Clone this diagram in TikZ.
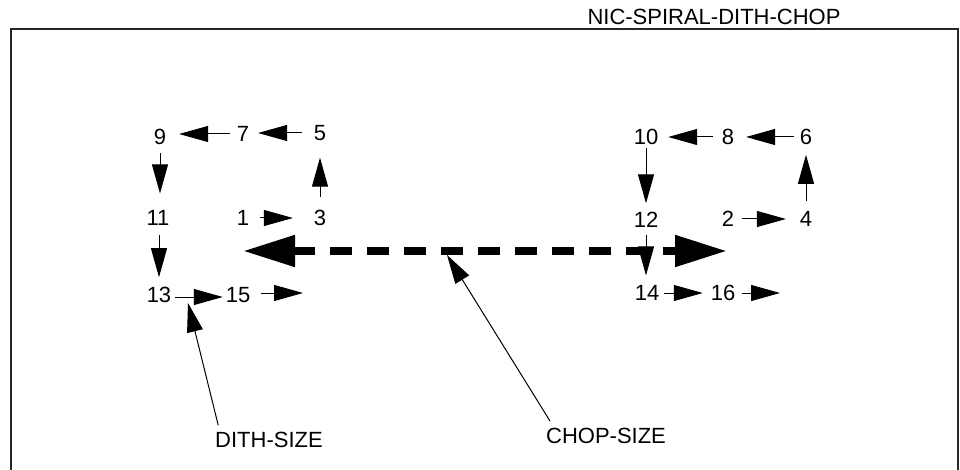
\documentclass[tikz,border=0pt]{standalone}
\usepackage{fontspec}
\setmainfont{Liberation Sans}
\usetikzlibrary{arrows.meta,calc}
\begin{document}
\begin{tikzpicture}[x=1pt,y=-1pt,
  lbl/.style={inner sep=0pt, outer sep=0pt, font=\fontsize{22}{26}\selectfont},
  arr/.style={line width=1pt, -{Triangle[length=29pt,width=16pt]}},
  bigarr/.style={line width=8pt, dash pattern=on 22pt off 15pt,
     {Triangle[length=52pt,width=30pt]}-{Triangle[length=52pt,width=30pt]}},
  frameline/.style={line width=1.5pt, draw=black!85}]
\useasboundingbox (0,0) rectangle (960,470);
\draw[frameline] (11,472) -- (11,29) -- (958,29) -- (958,472);
\node[lbl] (title) at (714,17) {NIC-SPIRAL-DITH-CHOP};
% left spiral
\node[lbl] (n9) at (160,137) {9};
\node[lbl] (n7) at (243,134) {7};
\node[lbl] (n5) at (320,133) {5};
\node[lbl] (n11) at (158,218) {11};
\node[lbl] (n1) at (243,218) {1};
\node[lbl] (n3) at (320,218) {3};
\node[lbl] (n13) at (159,295) {13};
\node[lbl] (n15) at (238,295) {15};
% right spiral
\node[lbl] (n10) at (646,137) {10};
\node[lbl] (n8) at (728,137) {8};
\node[lbl] (n6) at (806,137) {6};
\node[lbl] (n12) at (646,220) {12};
\node[lbl] (n2) at (728,219) {2};
\node[lbl] (n4) at (806,219) {4};
\node[lbl] (n14) at (647,293) {14};
\node[lbl] (n16) at (723,293) {16};
\node[lbl] (dith) at (269,440) {DITH-SIZE};
\node[lbl] (chop) at (606,436) {CHOP-SIZE};
\coordinate (e15) at (303,293);
\coordinate (e16) at (780,293);
\coordinate (chopL) at (243,251);
\coordinate (chopR) at (727,251);
\coordinate (chopPt) at (447,255);
\coordinate (dithPt) at (188,303);
% left arrows
\draw[arr, shorten <=12pt, shorten >=9pt] (n5.west) -- (n5.west -| n7.east);
\draw[arr, shorten <=7pt, shorten >=13pt] (n7.west) -- (n7.west -| n9.east);
\draw[arr, shorten <=8pt, shorten >=17pt] (n9.south) -- (n9.south |- n11.north);
\draw[arr, shorten <=9pt, shorten >=10pt] (n13.north |- n11.south) -- (n13.north);
\draw[arr, shorten <=11pt, shorten >=21pt] (n1.east) -- (n1.east -| n3.west);
\draw[arr, shorten <=13pt, shorten >=17pt] (n3.north) -- (n3.north |- n5.south);
\draw[arr, shorten <=4pt, shorten >=3pt] ([yshift=-2pt]n13.east) -- ([yshift=-2pt]n13.east -| n15.west);
\draw[arr, shorten <=11pt] (n15.east |- e15) -- (e15);
% right arrows
\draw[arr, shorten <=9pt, shorten >=10pt] (n8.west) -- (n8.west -| n10.east);
\draw[arr, shorten <=6pt, shorten >=12pt] (n6.west) -- (n6.west -| n8.east);
\draw[arr, shorten <=3pt, shorten >=9pt] (n10.south) -- (n10.south |- n12.north);
\draw[arr, shorten <=8pt, shorten >=14pt] (n2.east) -- (n2.east -| n4.west);
\draw[arr, shorten <=10pt, shorten >=10pt] (n4.north) -- (n4.north |- n6.south);
\draw[arr, shorten <=7pt, shorten >=10pt] (n12.south) -- (n12.south |- n14.north);
\draw[arr, shorten <=5pt, shorten >=8pt] (n14.east) -- (n14.east -| n16.west);
\draw[arr, shorten <=7pt] (n16.east |- e16) -- (e16);
% chop double arrow
\draw[bigarr] (chopL) -- (chopR);
% leaders
\draw[arr] ([shift={(4,-7)}]chop.north west) -- (chopPt);
\draw[arr] ([shift={(3,-7)}]dith.north west) -- (dithPt);
\end{tikzpicture}
\end{document}
